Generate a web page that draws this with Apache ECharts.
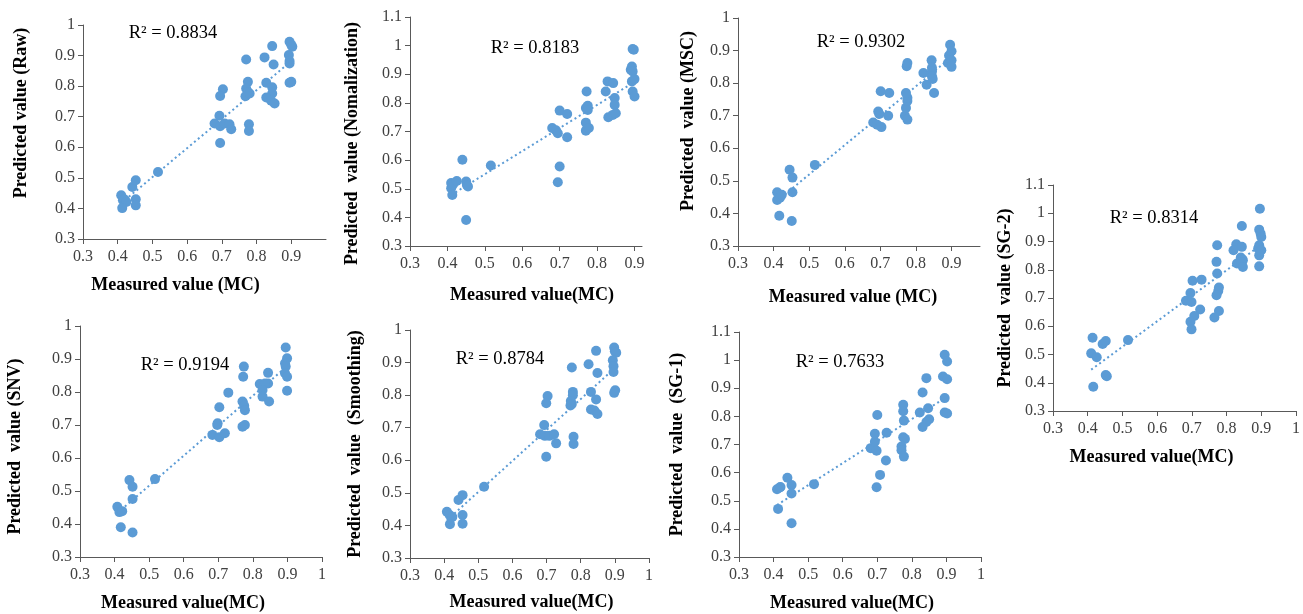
<!DOCTYPE html>
<html><head><meta charset="utf-8">
<script src="https://cdn.jsdelivr.net/npm/echarts@6/dist/echarts.min.js"></script>
<style>html,body{margin:0;padding:0;background:#fff}#c{width:1303px;height:614px}</style>
</head><body><div id="c"></div>
<script>
// Measured (x) vs predicted (y) moisture content for each preprocessing method
const rawData = [[0.41,0.443],[0.415,0.427],[0.42,0.429],[0.425,0.421],[0.413,0.401],[0.442,0.470],[0.452,0.492],[0.452,0.430],[0.452,0.410],[0.516,0.519],[0.703,0.790],[0.695,0.768],[0.693,0.703],[0.679,0.678],[0.695,0.669],[0.708,0.678],[0.722,0.675],[0.727,0.659],[0.695,0.614],[0.770,0.887],[0.775,0.814],[0.770,0.792],[0.775,0.781],[0.768,0.767],[0.780,0.776],[0.778,0.675],[0.778,0.653],[0.823,0.894],[0.845,0.931],[0.849,0.871],[0.828,0.811],[0.845,0.796],[0.845,0.776],[0.828,0.763],[0.842,0.752],[0.852,0.743],[0.895,0.945],[0.903,0.929],[0.9,0.935],[0.893,0.902],[0.895,0.882],[0.895,0.874],[0.9,0.814],[0.895,0.811]];
const nomData = [[0.41,0.502],[0.413,0.478],[0.41,0.52],[0.415,0.515],[0.425,0.527],[0.44,0.601],[0.45,0.525],[0.452,0.513],[0.455,0.508],[0.45,0.391],[0.516,0.581],[0.695,0.523],[0.70,0.578],[0.70,0.773],[0.68,0.712],[0.69,0.704],[0.695,0.694],[0.72,0.761],[0.72,0.680],[0.772,0.840],[0.77,0.782],[0.775,0.790],[0.775,0.775],[0.77,0.731],[0.77,0.703],[0.778,0.712],[0.823,0.840],[0.828,0.875],[0.843,0.869],[0.847,0.817],[0.847,0.793],[0.83,0.750],[0.842,0.758],[0.85,0.764],[0.895,0.988],[0.898,0.986],[0.89,0.916],[0.893,0.927],[0.895,0.910],[0.893,0.875],[0.9,0.883],[0.895,0.840],[0.9,0.822]];
const mscData = [[0.41,0.465],[0.41,0.441],[0.418,0.448],[0.423,0.457],[0.416,0.393],[0.445,0.534],[0.453,0.510],[0.453,0.465],[0.451,0.377],[0.516,0.549],[0.68,0.679],[0.691,0.672],[0.703,0.665],[0.694,0.713],[0.697,0.705],[0.701,0.775],[0.722,0.700],[0.725,0.770],[0.769,0.700],[0.772,0.724],[0.776,0.745],[0.776,0.755],[0.772,0.770],[0.776,0.688],[0.774,0.852],[0.776,0.862],[0.821,0.831],[0.83,0.795],[0.844,0.870],[0.845,0.847],[0.845,0.836],[0.845,0.821],[0.847,0.813],[0.851,0.770],[0.89,0.862],[0.893,0.885],[0.896,0.918],[0.9,0.898],[0.9,0.870],[0.9,0.850]];
const sg2Data = [[0.414,0.559],[0.41,0.504],[0.426,0.49],[0.416,0.386],[0.443,0.537],[0.452,0.548],[0.452,0.427],[0.455,0.423],[0.516,0.551],[0.683,0.69],[0.696,0.718],[0.699,0.686],[0.702,0.761],[0.728,0.765],[0.724,0.659],[0.707,0.636],[0.696,0.616],[0.699,0.589],[0.773,0.887],[0.771,0.828],[0.773,0.787],[0.778,0.737],[0.776,0.725],[0.771,0.71],[0.778,0.654],[0.765,0.631],[0.844,0.955],[0.828,0.890],[0.82,0.869],[0.844,0.881],[0.841,0.843],[0.847,0.834],[0.83,0.822],[0.844,0.826],[0.847,0.81],[0.896,1.016],[0.894,0.942],[0.898,0.928],[0.9,0.916],[0.894,0.887],[0.891,0.875],[0.9,0.869],[0.894,0.851],[0.894,0.812]];
const snvData = [[0.408,0.452],[0.414,0.436],[0.422,0.439],[0.418,0.39],[0.443,0.533],[0.452,0.513],[0.452,0.476],[0.452,0.374],[0.517,0.536],[0.683,0.67],[0.703,0.663],[0.719,0.675],[0.697,0.70],[0.698,0.705],[0.703,0.754],[0.729,0.798],[0.774,0.877],[0.772,0.846],[0.77,0.771],[0.775,0.758],[0.777,0.745],[0.77,0.695],[0.777,0.70],[0.844,0.858],[0.82,0.824],[0.844,0.826],[0.835,0.826],[0.828,0.806],[0.828,0.786],[0.847,0.771],[0.895,0.935],[0.899,0.902],[0.893,0.887],[0.895,0.877],[0.893,0.857],[0.899,0.846],[0.899,0.804]];
const smoothData = [[0.408,0.442],[0.416,0.432],[0.424,0.426],[0.417,0.404],[0.442,0.478],[0.454,0.493],[0.454,0.432],[0.454,0.405],[0.517,0.519],[0.681,0.68],[0.695,0.675],[0.708,0.675],[0.722,0.68],[0.728,0.652],[0.693,0.708],[0.699,0.611],[0.703,0.797],[0.699,0.775],[0.774,0.885],[0.777,0.81],[0.777,0.80],[0.771,0.782],[0.774,0.773],[0.77,0.768],[0.779,0.672],[0.779,0.65],[0.845,0.936],[0.823,0.895],[0.849,0.868],[0.83,0.81],[0.845,0.787],[0.83,0.756],[0.84,0.753],[0.849,0.742],[0.898,0.946],[0.9,0.935],[0.904,0.93],[0.894,0.907],[0.896,0.889],[0.896,0.871],[0.901,0.815],[0.898,0.807]];
const sg1Data = [[0.41,0.541],[0.418,0.547],[0.42,0.549],[0.413,0.471],[0.44,0.582],[0.452,0.556],[0.452,0.526],[0.452,0.42],[0.517,0.559],[0.681,0.687],[0.698,0.678],[0.693,0.71],[0.693,0.738],[0.727,0.742],[0.7,0.805],[0.725,0.643],[0.708,0.592],[0.698,0.548],[0.775,0.841],[0.775,0.818],[0.777,0.785],[0.775,0.726],[0.78,0.72],[0.77,0.693],[0.77,0.68],[0.777,0.657],[0.842,0.936],[0.831,0.885],[0.847,0.829],[0.823,0.814],[0.85,0.79],[0.842,0.78],[0.831,0.762],[0.895,1.019],[0.902,0.995],[0.89,0.942],[0.902,0.932],[0.895,0.865],[0.895,0.814],[0.902,0.81]];

const r2Labels = ['R² = 0.8834','R² = 0.8183','R² = 0.9302','R² = 0.8314','R² = 0.9194','R² = 0.8784','R² = 0.7633'];
const yNames = ['Predicted value (Raw)','Predicted  value (Nomalization)','Predicted  value (MSC)','Predicted  value (SG-2)','Predicted  value (SNV)','Predicted  value  (Smoothing)','Predicted  value  (SG-1)'];
const xNames = ['Measured value (MC)','Measured value(MC)','Measured value (MC)','Measured value(MC)','Measured value(MC)','Measured value(MC)','Measured value(MC)'];
const seriesList = [rawData, nomData, mscData, sg2Data, snvData, smoothData, sg1Data];
const yMaxes = [1, 1.1, 1, 1.1, 1, 1, 1.1];
const xMaxes = [1, 0.92, 0.98, 1, 1, 1, 1];
const showXMax = [false, false, false, true, true, true, true];

// layout (pixels)
const grids = [
  {left:83, top:25, width:243, height:214},
  {left:410, top:17, width:232, height:229},
  {left:738, top:18, width:242, height:228},
  {left:1053, top:185, width:247, height:226},
  {left:80, top:326, width:242, height:231},
  {left:410, top:330, width:239, height:228},
  {left:739, top:332, width:242, height:225}
];
// name offsets: [xShift(px, + right), xGap, yShift(px, + up), yGap]
const nameLayout = [
  [-29, 37, 19, 53],
  [6, 40, -12, 49],
  [-6, 42, 11, 41],
  [-23, 37, 0, 39],
  [-18, 37, -5, 56],
  [2, 35, 0, 46],
  [-8, 37, 0, 53]
];
const r2Pos = [[173,33],[535,48],[861,42],[1154,218],[185,365],[500,359],[840,362]];

const COLOR = '#5B9BD5';
const SERIF = '"Liberation Serif","Times New Roman",serif';

function regress(d){
  const n=d.length; let sx=0,sy=0,sxx=0,sxy=0, mn=Infinity, mx=-Infinity;
  d.forEach(p=>{sx+=p[0];sy+=p[1];sxx+=p[0]*p[0];sxy+=p[0]*p[1];mn=Math.min(mn,p[0]);mx=Math.max(mx,p[0]);});
  const b=(n*sxy-sx*sy)/(n*sxx-sx*sx), a=(sy-b*sx)/n;
  return [[mn,a+b*mn],[mx,a+b*mx]];
}
function pad(shift){ // shift>0 moves text toward +local-x
  return shift>=0 ? [0,0,0,2*shift] : [0,-2*shift,0,0];
}

const xAxis=[], yAxis=[], series=[], graphic=[];
grids.forEach((g,i)=>{
  const nl = nameLayout[i];
  xAxis.push({
    type:'value', gridIndex:i, min:0.3, max:xMaxes[i], interval:0.1,
    name:xNames[i], nameLocation:'middle', nameGap:nl[1],
    nameTextStyle:{fontFamily:SERIF, fontWeight:'bold', fontSize:18, color:'#000', padding:pad(nl[0])},
    axisLine:{show:true, lineStyle:{color:'#595959', width:1}},
    axisTick:{show:true, inside:false, length:5, lineStyle:{color:'#595959'}},
    splitLine:{show:false},
    axisLabel:{fontFamily:SERIF, fontSize:16, color:'#404040', margin:10, showMaxLabel:showXMax[i],
      formatter:v=>{const r=Math.round(v*10)/10; return Math.abs(r-v)<1e-6 ? String(r) : '';}}
  });
  yAxis.push({
    type:'value', gridIndex:i, min:0.3, max:yMaxes[i], interval:0.1,
    name:yNames[i], nameLocation:'middle', nameGap:nl[3], nameRotate:90,
    nameTextStyle:{fontFamily:SERIF, fontWeight:'bold', fontSize:18, color:'#000', padding:pad(nl[2])},
    axisLine:{show:true, lineStyle:{color:'#595959', width:1}},
    axisTick:{show:true, inside:false, length:5, lineStyle:{color:'#595959'}},
    splitLine:{show:false},
    axisLabel:{fontFamily:SERIF, fontSize:16, color:'#404040', margin:8,
      formatter:v=>String(Math.round(v*10)/10)}
  });
  series.push({
    type:'line', xAxisIndex:i, yAxisIndex:i, data:regress(seriesList[i]), symbol:'none',
    lineStyle:{color:COLOR, width:2, type:[2,3]}, silent:true, z:2
  });
  series.push({
    type:'scatter', xAxisIndex:i, yAxisIndex:i, data:seriesList[i], symbol:'circle', symbolSize:10,
    itemStyle:{color:COLOR, opacity:1}, z:3
  });
  graphic.push({type:'text', x:r2Pos[i][0], y:r2Pos[i][1], style:{text:r2Labels[i], font:'18.5px '+SERIF, fill:'#000', textAlign:'center', textVerticalAlign:'middle'}});
});

const chart = echarts.init(document.getElementById('c'), null, {renderer:'canvas'});
chart.setOption({
  animation:false, backgroundColor:'#fff',
  grid: grids.map(g=>Object.assign({containLabel:false}, g)),
  xAxis, yAxis, series, graphic
});
</script></body></html>
